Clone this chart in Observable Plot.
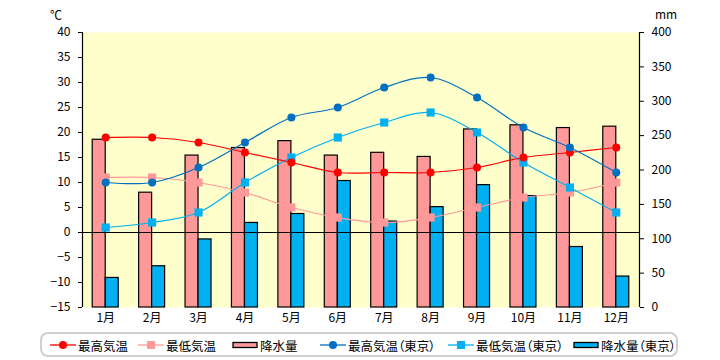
<!DOCTYPE html>
<html><head><meta charset="utf-8">
<script src="https://cdn.jsdelivr.net/npm/d3@7"></script>
<script src="https://cdn.jsdelivr.net/npm/@observablehq/plot@0.6"></script>
<style>
body{margin:0;background:#fff;font-family:"Noto Sans CJK JP",sans-serif;}
#wrap{position:relative;width:720px;height:360px;}
.unit{position:absolute;font-size:12px;color:#000;}
#legend{position:absolute;left:40px;top:332px;width:638px;height:25px;border:2px solid #cfcfcf;border-radius:8px;box-sizing:border-box;}
.li{position:absolute;top:3px;height:16px;display:flex;align-items:center;font-size:12.5px;white-space:nowrap;font-feature-settings:"palt";}
.li svg{margin-right:2px;}
</style></head>
<body><div id="wrap"><div id="chart"></div>
<div class="unit" style="left:50px;top:6px;">℃</div>
<div class="unit" style="left:655px;top:5px;">mm</div>
<div id="legend"></div></div>
<script>
const months = [1,2,3,4,5,6,7,8,9,10,11,12];
const monthLabels = ["1月","2月","3月","4月","5月","6月","7月","8月","9月","10月","11月","12月"];
const maxTemp = [19,19,18,16,14,12,12,12,13,15,16,17];
const minTemp = [11,11,10,8,5,3,2,3,5,7,8,10];
const rain = [244,167,221,232,242,221,225,219,259,265,261,263];
const tokyoMax = [10,10,13,18,23,25,29,31,27,21,17,12];
const tokyoMin = [1,2,4,10,15,19,22,24,20,14,9,4];
const tokyoRain = [43,60,99,123,136,184,125,146,178,162,88,45];
const tempTicks = [-15,-10,-5,0,5,10,15,20,25,30,35,40];
const rainTicks = [0,50,100,150,200,250,300,350,400];
const seriesNames = ["最高気温","最低気温","降水量","最高気温（東京）","最低気温（東京）","降水量（東京）"];

const mmToT = mm => -15 + mm * 55 / 400;
const rows = months.map((m, i) => ({m, maxT: maxTemp[i], minT: minTemp[i], rain: rain[i],
  tMax: tokyoMax[i], tMin: tokyoMin[i], tRain: tokyoRain[i]}));

const RED = "#ff0000", PINK = "#ff9999", DBLUE = "#0070c0", LBLUE = "#00b0f0";
const bw = 0.28;

const chart = Plot.plot({
  width: 720, height: 330,
  marginTop: 32, marginBottom: 23, marginLeft: 82, marginRight: 81,
  x: {domain: [0.5, 12.5], label: null},
  y: {domain: [-15, 40], label: null},
  style: {fontFamily: "'Noto Sans CJK JP', sans-serif", fontSize: "11px", color: "#000", background: "white"},
  marks: [
    Plot.frame({fill: "#ffffcc", stroke: null}),
    Plot.rect(rows, {x1: d => d.m - bw, x2: d => d.m, y1: -15, y2: d => mmToT(d.rain), fill: PINK, stroke: "#000", strokeWidth: 1.2}),
    Plot.rect(rows, {x1: d => d.m, x2: d => d.m + bw, y1: -15, y2: d => mmToT(d.tRain), fill: LBLUE, stroke: "#000", strokeWidth: 1.2}),
    Plot.ruleY([0], {stroke: "#000", strokeWidth: 1.2}),
    Plot.ruleX([0.5, 12.5], {y1: -15, y2: 40, stroke: "#000", strokeWidth: 1.2}),
    Plot.line(rows, {x: "m", y: "minT", stroke: PINK, strokeWidth: 1.2, curve: "catmull-rom"}),
    Plot.line(rows, {x: "m", y: "tMin", stroke: LBLUE, strokeWidth: 1.2, curve: "catmull-rom"}),
    Plot.line(rows, {x: "m", y: "maxT", stroke: RED, strokeWidth: 1.2, curve: "catmull-rom"}),
    Plot.line(rows, {x: "m", y: "tMax", stroke: DBLUE, strokeWidth: 1.2, curve: "catmull-rom"}),
    Plot.dot(rows, {x: "m", y: "minT", fill: PINK, symbol: "square", r: 4.6}),
    Plot.dot(rows, {x: "m", y: "tMin", fill: LBLUE, symbol: "square", r: 4.6}),
    Plot.dot(rows, {x: "m", y: "maxT", fill: RED, r: 4}),
    Plot.dot(rows, {x: "m", y: "tMax", fill: DBLUE, r: 4}),
    Plot.axisX(months, {tickSize: 0, tickPadding: 6, tickFormat: d => monthLabels[d - 1], fontSize: 12}),
    Plot.axisY(tempTicks, {anchor: "left", tickSize: 4, tickPadding: 8, fontSize: 12, stroke: "#000", strokeOpacity: 1}),
    Plot.axisY(rainTicks.map(mmToT), {anchor: "right", tickSize: 4, tickPadding: 8, fontSize: 12, stroke: "#000", strokeOpacity: 1, tickFormat: t => String(Math.round((t + 15) * 400 / 55))})
  ]
});
document.getElementById("chart").appendChild(chart);

// legend
const leg = document.getElementById("legend");
const legendItems = [
  {name: seriesNames[0], type: "line", color: RED, sym: "circle", left: 8},
  {name: seriesNames[1], type: "line", color: PINK, sym: "square", left: 96},
  {name: seriesNames[2], type: "rect", color: PINK, left: 190},
  {name: seriesNames[3], type: "line", color: DBLUE, sym: "circle", left: 278},
  {name: seriesNames[4], type: "line", color: LBLUE, sym: "square", left: 406},
  {name: seriesNames[5], type: "rect", color: LBLUE, left: 531}
];
for (const it of legendItems) {
  const div = document.createElement("div");
  div.className = "li";
  div.style.left = it.left + "px";
  let s;
  if (it.type === "line") {
    const mk = it.sym === "circle"
      ? `<circle cx="13" cy="8" r="4" fill="${it.color}"/>`
      : `<rect x="9" y="4" width="8" height="8" fill="${it.color}"/>`;
    s = `<svg width="26" height="16"><line x1="0" x2="26" y1="8" y2="8" stroke="${it.color}" stroke-width="1.3"/>${mk}</svg>`;
  } else {
    s = `<svg width="26" height="16"><rect x="1" y="5.5" width="24" height="5" fill="${it.color}" stroke="#000" stroke-width="1.3"/></svg>`;
  }
  div.innerHTML = s + `<span>${it.name}</span>`;
  leg.appendChild(div);
}
</script></body></html>
